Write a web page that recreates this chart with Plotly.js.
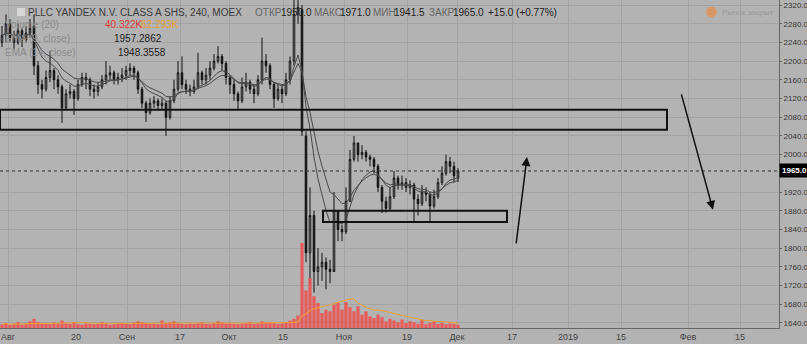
<!DOCTYPE html>
<html><head><meta charset="utf-8">
<script src="https://cdn.plot.ly/plotly-3.0.1.min.js"></script>
<style>html,body{margin:0;padding:0;background:#b3b3b3;}#chart{width:807px;height:344px;}</style>
</head><body><div id="chart"></div>
<script>
const openP = [2240,2255,2280,2250,2240,2265,2245,2260,2275,2190,
 2150,2140,2165,2180,2160,2145,2100,2130,2135,2120,
 2150,2165,2160,2140,2135,2145,2160,2170,2175,2160,
 2165,2170,2180,2185,2175,2140,2110,2090,2110,2115,
 2105,2110,2080,2115,2140,2175,2150,2140,2135,2145,
 2175,2160,2170,2185,2200,2210,2195,2165,2150,2130,
 2115,2145,2155,2140,2130,2160,2200,2190,2150,2120,
 2140,2130,2160,2200,2300,2310,2040,1790,1870,1750,
 1760,1770,1755,1750,1880,1840,1835,1900,1990,2025,
 2000,2005,1995,1990,1975,1930,1900,1885,1910,1950,
 1935,1940,1930,1935,1905,1895,1920,1915,1890,1910,
 1940,1960,1985,1975,1950];
const highP = [2275,2300,2290,2265,2280,2270,2275,2290,2300,2200,
 2160,2180,2222,2185,2170,2150,2140,2150,2140,2160,
 2175,2175,2165,2150,2155,2170,2200,2190,2180,2175,
 2185,2190,2195,2190,2180,2145,2115,2120,2125,2120,
 2120,2115,2125,2160,2200,2210,2160,2150,2160,2218,
 2180,2185,2200,2215,2232,2215,2200,2170,2160,2135,
 2165,2175,2160,2150,2170,2250,2215,2195,2155,2150,
 2150,2175,2210,2335,2345,2320,2050,1930,1880,1800,
 1790,1780,1775,1920,1880,1850,1930,2010,2040,2025,
 2020,2010,2000,1995,1980,1935,1910,1930,1965,1955,
 1955,1950,1945,1940,1915,1935,1930,1920,1925,1950,
 1975,2000,1995,1985,1971];
const lowP = [2230,2240,2240,2225,2235,2230,2240,2250,2170,2130,
 2120,2135,2155,2140,2130,2068,2095,2120,2085,2115,
 2145,2140,2125,2120,2125,2140,2150,2160,2150,2150,
 2155,2160,2170,2160,2130,2100,2070,2085,2100,2095,
 2095,2040,2075,2110,2135,2140,2130,2125,2130,2140,
 2150,2150,2160,2180,2195,2180,2150,2130,2115,2095,
 2110,2135,2130,2110,2125,2150,2175,2140,2100,2115,
 2110,2125,2150,2190,2280,2040,1770,1720,1705,1720,
 1730,1712,1725,1755,1815,1815,1830,1900,1985,1985,
 1990,1985,1975,1960,1920,1875,1876,1880,1905,1925,
 1925,1920,1915,1855,1870,1890,1900,1855,1885,1905,
 1935,1955,1960,1940,1941.5];
const closeP = [2255,2280,2250,2240,2265,2245,2260,2270,2190,2150,
 2140,2165,2180,2160,2145,2100,2130,2135,2120,2150,
 2165,2160,2140,2135,2145,2160,2170,2175,2160,2165,
 2170,2180,2185,2175,2140,2110,2090,2110,2115,2105,
 2110,2080,2115,2140,2175,2150,2140,2135,2145,2175,
 2160,2170,2185,2200,2210,2195,2165,2150,2130,2115,
 2145,2155,2140,2130,2160,2200,2190,2150,2120,2140,
 2130,2160,2200,2300,2315,2050,1790,1870,1750,1760,
 1770,1755,1750,1880,1840,1835,1900,1990,2025,2000,
 2005,1995,1990,1975,1930,1900,1885,1910,1950,1935,
 1940,1930,1935,1905,1895,1920,1915,1890,1910,1940,
 1960,1985,1975,1955,1965];
const volumeK = [45,60,35,50,70,40,55,80,110,70,
 60,50,45,65,55,90,60,50,70,45,
 40,55,50,45,60,70,50,40,45,55,
 60,50,45,65,80,70,60,50,55,45,
 90,60,70,80,60,50,45,55,50,60,
 70,50,45,60,80,70,55,60,50,45,
 55,60,70,50,60,80,65,70,60,50,
 55,60,90,110,150,1020,450,600,380,300,
 180,220,200,280,300,220,310,250,200,260,
 160,200,140,120,160,130,80,110,90,70,
 100,60,80,70,50,100,45,60,80,50,
 60,45,55,50,40];
const tickPos = [1.5,18.5,31.25,44.5,56.75,70.25,85.5,101.25,113.75,127.5,141.5,154.75,171.5,184.5];
const tickLbl = ['Авг','20','Сен','17','Окт','15','Ноя','19','Дек','17','2019','15','Фев','15'];
const priceTicks = [1640,1680,1720,1760,1800,1840,1880,1920,2000,2040,2080,2120,2160,2200,2240,2280,2320];
const supportZones = [[-0.5,166.25,2053,2096],[80.25,126.25,1856,1880]];
const arrows = [[128.5,1807,131.25,1995],[169.75,2132,177.75,1882]];
const lastPrice = 1965.0;

const idx = closeP.map((_, i) => i);
function ema(arr, n){const k=2/(n+1);const out=[];let e=arr[0];arr.forEach((v,i)=>{e=i===0?v:v*k+e*(1-k);out.push(e);});return out;}
function sma(arr,n){return arr.map((_,i)=>{const s=arr.slice(Math.max(0,i-n+1),i+1);return s.reduce((a,b)=>a+b,0)/s.length;});}

const W=779, H=328;
const px = x => x/W, py = y => 1 - y/H;

const traces = [
 {type:'bar', x:idx, y:volumeK, yaxis:'y2', marker:{color:'rgba(238,80,80,0.9)'}, width:0.8, hoverinfo:'skip'},
 {type:'scatter', mode:'lines', x:idx, y:sma(volumeK,14), yaxis:'y2', line:{color:'#f0a030', width:1}, hoverinfo:'skip'},
 {type:'scatter', mode:'lines', x:idx, y:ema(closeP,9), line:{color:'#4a4a4a', width:1}, hoverinfo:'skip'},
 {type:'scatter', mode:'lines', x:idx, y:ema(closeP,14), line:{color:'#4a4a4a', width:1}, hoverinfo:'skip'},
 {type:'candlestick', x:idx, open:openP, high:highP, low:lowP, close:closeP,
  increasing:{line:{color:'#111', width:1}, fillcolor:'#b8b8b8'},
  decreasing:{line:{color:'#111', width:1}, fillcolor:'#111'}, whiskerwidth:0}
];

const shapes = supportZones.map(z => ({type:'rect', xref:'x', yref:'y', x0:z[0], x1:z[1], y0:z[2], y1:z[3], line:{color:'#111', width:2}, fillcolor:'rgba(0,0,0,0)'}));
shapes.push({type:'line', xref:'paper', yref:'y', x0:0, x1:1, y0:lastPrice, y1:lastPrice, line:{color:'#333', width:1, dash:'dot'}});
shapes.push({type:'rect', xref:'paper', yref:'paper', x0:px(17), x1:px(25), y0:py(16), y1:py(8), line:{width:0}, fillcolor:'#d8d8d8'});
shapes.push({type:'circle', xref:'paper', yref:'paper', x0:px(706), x1:px(717), y0:py(17.5), y1:py(6.5), line:{width:0}, fillcolor:'#d99a6a'});

const F = 'Liberation Sans, Arial, sans-serif';
function txt(x,y,t,color,size){return {xref:'paper', yref:'paper', x:px(x), y:py(y), xanchor:'left', yanchor:'middle', text:t, showarrow:false, font:{family:F, size:size||10, color:color}, borderpad:0};}
const annotations = [
 txt(27,12,'PLLC YANDEX N.V. CLASS A SHS, 240, MOEX','#3a3a3a',10),
 txt(254,12,'ОТКР','#666',10), txt(280,12,'1950.0','#222',10),
 txt(313,12,'МАКС','#666',10), txt(339,12,'1971.0','#222',10),
 txt(372,12,'МИН','#666',10), txt(393,12,'1941.5','#222',10),
 txt(428,12,'ЗАКР','#666',10), txt(452,12,'1965.0','#222',10),
 txt(487,12,'+15.0 (+0.77%)','#222',10),
 txt(4,25,'Volume (20)','#8c8c8c',10), txt(104,25,'40.322K','#e03a3a',10), txt(140,25,'62.293K','#e8a030',10),
 txt(4,38,'EMA (9, close)','#8c8c8c',10), txt(113,38,'1957.2862','#222',10),
 txt(4,52,'EMA (14, close)','#8c8c8c',10), txt(117,52,'1948.3558','#222',10),
 txt(721,12,'Рынок закрыт','#9a9a9a',8),
 txt(708,12,'D','#c98a5a',7),
 {xref:'paper', yref:'y', x:1.0, y:lastPrice, xanchor:'left', yanchor:'middle', xshift:0, text:'<b>1965.0</b>', showarrow:false, bgcolor:'#000', font:{family:F, size:8, color:'#fff'}, borderpad:2}
];
arrows.forEach(a => annotations.push({xref:'x', yref:'y', axref:'x', ayref:'y', ax:a[0], ay:a[1], x:a[2], y:a[3], text:'', showarrow:true, arrowhead:2, arrowsize:1.2, arrowwidth:1.5, arrowcolor:'#111'}));

const layout = {
 width:807, height:344, margin:{l:0, r:28, t:0, b:16},
 paper_bgcolor:'#b3b3b3', plot_bgcolor:'#b3b3b3', showlegend:false,
 font:{family:F, size:8, color:'#333'},
 boxgap:0.45,
 xaxis:{range:[-0.5,194.25], tickvals:tickPos, ticktext:tickLbl, showgrid:true, gridcolor:'#a4a4a4', gridwidth:1,
   zeroline:false, showline:true, linecolor:'#666', ticks:'', tickfont:{size:9, color:'#444'}, rangeslider:{visible:false}, fixedrange:true},
 yaxis:{range:[1629.2,2330.7], side:'right', tickvals:priceTicks, tickformat:'.1f',
   showgrid:true, gridcolor:'#a4a4a4', zeroline:false, showline:true, linecolor:'#666', ticks:'outside', ticklen:2, tickcolor:'#666', tickfont:{size:8, color:'#333'}},
 yaxis2:{overlaying:'y', range:[0,3936], visible:false, fixedrange:true},
 shapes:shapes, annotations:annotations
};
Plotly.newPlot('chart', traces, layout, {staticPlot:true, displayModeBar:false});
</script></body></html>
